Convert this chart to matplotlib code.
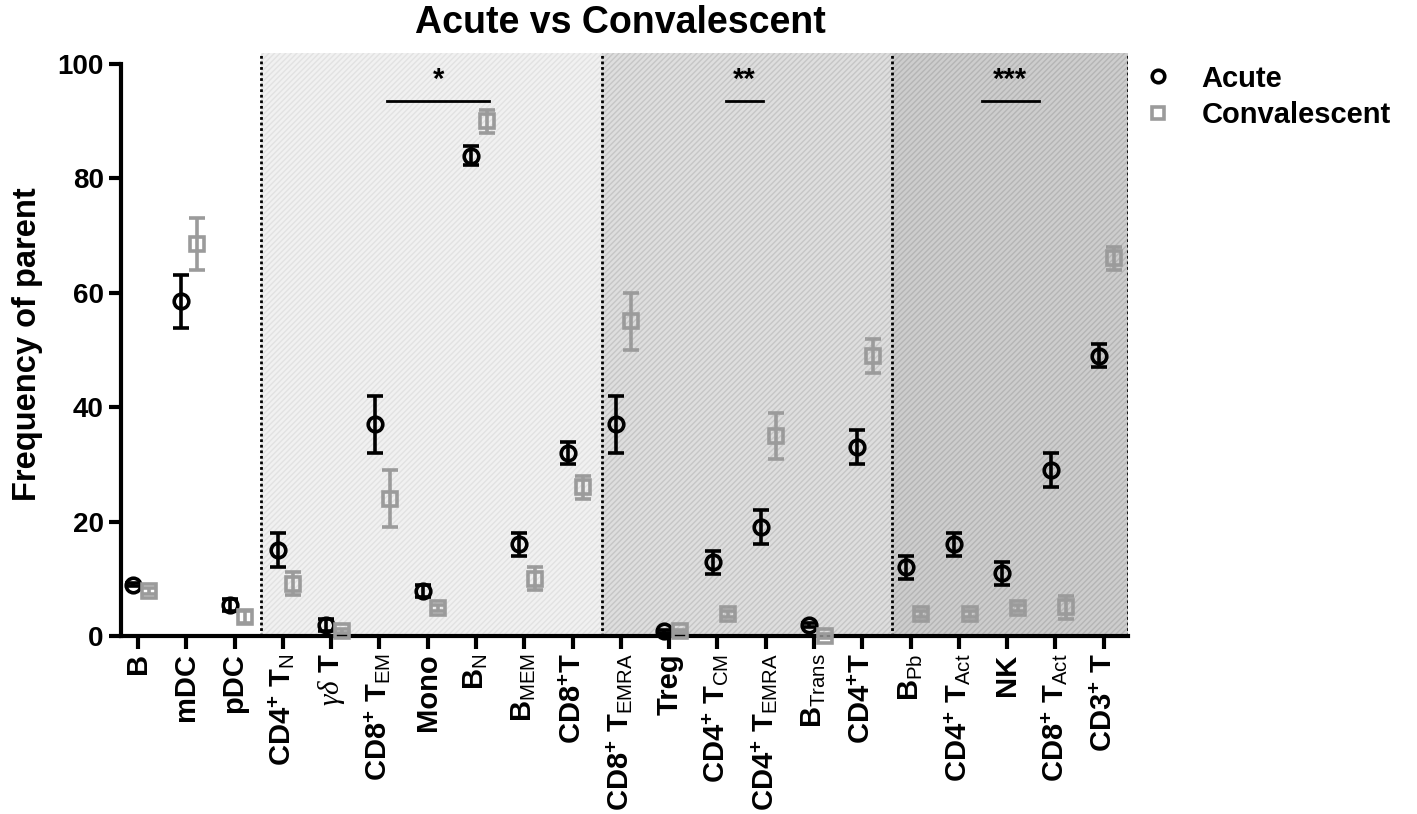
import numpy as np
import matplotlib
matplotlib.use("Agg")
import matplotlib.pyplot as plt
from matplotlib.lines import Line2D

plt.rcParams["font.family"] = ["Liberation Sans", "DejaVu Sans"]
plt.rcParams["mathtext.fontset"] = "custom"
plt.rcParams["mathtext.rm"] = "Liberation Sans"
plt.rcParams["mathtext.bf"] = "Liberation Sans:bold"
plt.rcParams["mathtext.it"] = "Liberation Serif:italic"
plt.rcParams["hatch.linewidth"] = 1.0

# --- datos ---
etiquetas = [
    r"B", r"mDC", r"pDC",
    r"CD4$^{\mathbf{+}}$ T$_{\mathrm{N}}$", r"$\gamma\delta$ T",
    r"CD8$^{\mathbf{+}}$ T$_{\mathrm{EM}}$", r"Mono", r"B$_{\mathrm{N}}$",
    r"B$_{\mathrm{MEM}}$", r"CD8$^{\mathbf{+}}$T",
    r"CD8$^{\mathbf{+}}$ T$_{\mathrm{EMRA}}$", r"Treg",
    r"CD4$^{\mathbf{+}}$ T$_{\mathrm{CM}}$", r"CD4$^{\mathbf{+}}$ T$_{\mathrm{EMRA}}$",
    r"B$_{\mathrm{Trans}}$", r"CD4$^{\mathbf{+}}$T",
    r"B$_{\mathrm{Pb}}$", r"CD4$^{\mathbf{+}}$ T$_{\mathrm{Act}}$", r"NK",
    r"CD8$^{\mathbf{+}}$ T$_{\mathrm{Act}}$", r"CD3$^{\mathbf{+}}$ T",
]
agudo = [9, 58.5, 5.4, 15, 1.9, 37, 7.9, 84, 16, 32,
         37, 0.8, 12.9, 19, 1.9, 33, 12, 16, 11, 29, 49]
agudo_err = [0.3, 4.6, 1, 3, 1, 5, 1, 1.7, 2, 2,
             5, 0.3, 2, 3, 0.3, 3, 2, 2, 2, 3, 2]
conval = [7.9, 68.5, 3.3, 9.1, 0.9, 24, 4.9, 90, 10, 26,
          55, 0.8, 3.8, 35, 0, 49, 3.8, 3.8, 4.9, 5, 66]
conval_err = [0.5, 4.5, 1, 2, 0.3, 5, 0.5, 2, 2, 2,
              5, 0.3, 0.5, 4, 0.3, 3, 0.5, 0.5, 0.5, 2, 2]

# limites de los tramos sombreados
divisiones = [2.55, 9.62, 15.62, 20.5]
# barras de significancia: (x inicio, x fin, texto)
significancia = [(5.16, 7.27, "*"), (12.17, 12.95, "**"), (17.47, 18.65, "***")]

x = np.arange(len(etiquetas))
gris = "#9b9b9b"

fig = plt.figure(figsize=(14.17, 8.14), dpi=100)
ax = fig.add_axes([0.0854, 0.2187, 0.7106, 0.7167])

fondos = [("#f1f1f1", "#e2e2e2"), ("#dedede", "#c6c6c6"), ("#cdcdcd", "#b5b5b5")]
for (x0, x1), (fc, hc) in zip(zip(divisiones[:-1], divisiones[1:]), fondos):
    ax.axvspan(x0, x1, facecolor=fc, edgecolor=hc, hatch="//////", linewidth=0, zorder=0)
for xd in divisiones:
    ax.axvline(xd, color="black", linestyle=(0, (1, 1)), linewidth=2, zorder=1)

ax.errorbar(x - 0.1, agudo, yerr=agudo_err, fmt="o", color="black", mfc="none",
            mec="black", mew=2.6, ms=10.5, elinewidth=2.6, capsize=6, capthick=2.6,
            zorder=3, clip_on=False)
ax.errorbar(x + 0.22, conval, yerr=conval_err, fmt="s", color=gris, mfc="none",
            mec=gris, mew=2.6, ms=9.5, elinewidth=2.6, capsize=6, capthick=2.6,
            zorder=3, clip_on=False)

for x0, x1, txt in significancia:
    ax.plot([x0, x1], [93.5, 93.5], color="black", linewidth=2)
    ax.text((x0 + x1) / 2, 97.3, txt, ha="center", va="center", fontsize=21,
            fontweight="bold")

ax.set_xlim(-0.35, 20.5)
ax.set_ylim(0, 102)
ax.spines["left"].set_bounds(0, 100)
ax.spines["top"].set_visible(False)
ax.spines["right"].set_visible(False)
ax.spines["left"].set_linewidth(3)
ax.spines["bottom"].set_linewidth(3)
ax.set_yticks([0, 20, 40, 60, 80, 100])
ax.set_xticks(x)
ax.set_xticklabels(etiquetas, rotation=90, ha="center", va="top",
                   fontsize=21, fontweight="bold")
ax.tick_params(axis="both", width=3, length=9)
for lab in ax.get_yticklabels():
    lab.set_fontsize(20)
    lab.set_fontweight("bold")

ax.set_ylabel("Frequency of parent", fontsize=23.5, fontweight="bold", labelpad=10)
fig.text(0.438, 0.972, "Acute vs Convalescent", ha="center", va="center",
         fontsize=27, fontweight="bold",
         family=["Liberation Sans Narrow", "Liberation Sans"])

manejadores = [
    Line2D([], [], linestyle="none", marker="o", ms=9, mfc="none", mec="black", mew=2.6),
    Line2D([], [], linestyle="none", marker="s", ms=9, mfc="none", mec=gris, mew=2.6),
]
fig.legend(manejadores, ["Acute", "Convalescent"], loc="upper left",
           bbox_to_anchor=(0.786, 0.953), frameon=False,
           prop={"weight": "bold", "size": 21}, handletextpad=0.9,
           labelspacing=0.3, handlelength=1.2)

fig.savefig("out.png", dpi=100)
